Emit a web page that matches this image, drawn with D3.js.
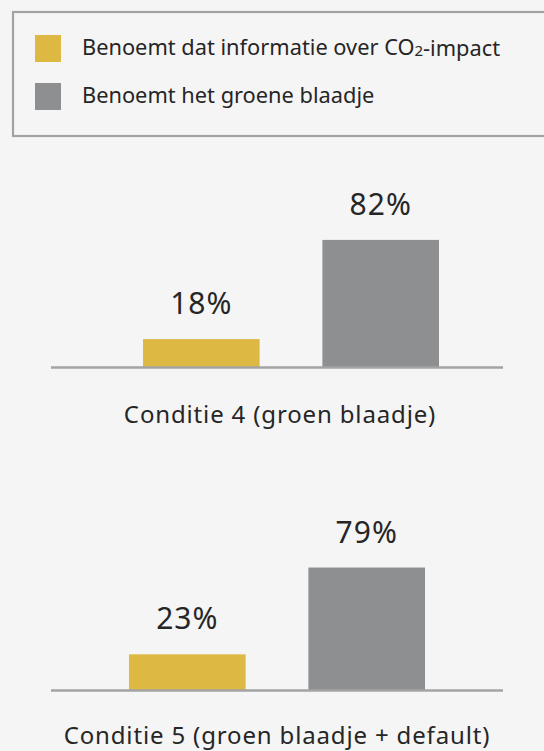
<!DOCTYPE html>
<html>
<head>
<meta charset="utf-8">
<script src="https://cdn.jsdelivr.net/npm/d3@7"></script>
<style>
  html, body { margin: 0; padding: 0; background: #f5f5f5; }
  svg { display: block; }
  text { font-family: "Noto Sans", "Open Sans", sans-serif; fill: #262626; }
</style>
</head>
<body>
<svg id="chart" width="544" height="751"></svg>
<script>
// Series shown in the legend and their colours
const seriesNames = ["Benoemt dat informatie over CO₂-impact", "Benoemt het groene blaadje"];
const seriesColors = ["#ddb943", "#8e8f91"];

// One panel per condition
const conditions = ["Conditie 4 (groen blaadje)", "Conditie 5 (groen blaadje + default)"];
const co2Values = [18, 23];   // % naming the CO2 information
const leafValues = [82, 79];  // % naming the green leaf

const svg = d3.select("#chart");

// ---- Legend ----
const legend = svg.append("g");
legend.append("rect")
  .attr("x", 13).attr("y", 12)
  .attr("width", 620).attr("height", 124)
  .attr("fill", "none")
  .attr("stroke", "#a2a2a2")
  .attr("stroke-width", 2.2);

const legendY = d3.scalePoint().domain(d3.range(seriesNames.length)).range([35, 83]);
const items = legend.selectAll("g.item")
  .data(seriesNames)
  .join("g")
  .attr("class", "item")
  .attr("transform", (d, i) => `translate(35,${legendY(i)})`);
items.append("rect")
  .attr("width", 26).attr("height", 27)
  .attr("fill", (d, i) => seriesColors[i]);

// legend labels; a subscript digit is set smaller, close to the baseline
items.append("text")
  .attr("x", 47).attr("y", 19.5)
  .attr("font-size", 21.8)
  .each(function (d) {
    const t = d3.select(this);
    d.split(/([₀-₉])/).forEach(part => {
      if (!part) return;
      if (/[₀-₉]/.test(part)) {
        t.append("tspan")
          .attr("font-size", 15)
          .attr("dy", 1.5)
          .text(String.fromCharCode(part.charCodeAt(0) - 0x2080 + 48));
        t.append("tspan").attr("dy", -1.5).text("");
      } else {
        t.append("tspan").text(part);
      }
    });
  });

// ---- Bar panels ----
// shared vertical scale so both conditions are comparable
const y = d3.scaleLinear().domain([0, 100]).range([0, 155]);
const x = d3.scaleBand().domain(d3.range(seriesNames.length))
  .range([0, 296]).paddingInner(0.35).paddingOuter(0);

const panels = [
  { baseline: 367, barsLeft: 143, labelX: 280, labelDy: 56 },
  { baseline: 690, barsLeft: 129, labelX: 277, labelDy: 54 }
];

conditions.forEach((cond, ci) => {
  const p = panels[ci];
  const vals = [co2Values[ci], leafValues[ci]];
  const g = svg.append("g");

  const bars = g.append("g").attr("transform", `translate(${p.barsLeft},0)`);
  bars.selectAll("rect")
    .data(vals)
    .join("rect")
    .attr("x", (d, i) => x(i))
    .attr("width", x.bandwidth())
    .attr("y", d => p.baseline - y(d))
    .attr("height", d => y(d))
    .attr("fill", (d, i) => seriesColors[i]);

  bars.selectAll("text")
    .data(vals)
    .join("text")
    .attr("x", (d, i) => x(i) + x.bandwidth() / 2)
    .attr("y", d => p.baseline - y(d) - 25)
    .attr("text-anchor", "middle")
    .attr("font-size", 30)
    .attr("letter-spacing", 1)
    .text(d => d + "%");

  // baseline
  g.append("line")
    .attr("x1", 51).attr("x2", 503)
    .attr("y1", p.baseline + 0.5).attr("y2", p.baseline + 0.5)
    .attr("stroke", "#a3a3a3")
    .attr("stroke-width", 2.5);

  g.append("text")
    .attr("x", p.labelX)
    .attr("y", p.baseline + p.labelDy)
    .attr("text-anchor", "middle")
    .attr("font-size", 24)
    .attr("letter-spacing", 0.85)
    .text(cond);
});
</script>
</body>
</html>
